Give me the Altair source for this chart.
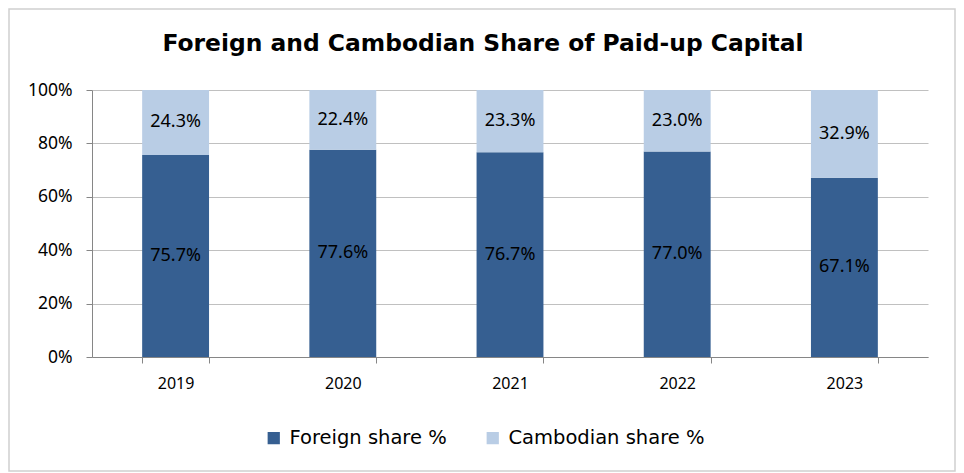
import altair as alt
import pandas as pd

years = ["2019", "2020", "2021", "2022", "2023"]
foreign = [75.7, 77.6, 76.7, 77.0, 67.1]
cambodian = [24.3, 22.4, 23.3, 23.0, 32.9]
series_names = ["Foreign share %", "Cambodian share %"]
colors = ["#365F91", "#B9CDE5"]

df = pd.DataFrame({"year": years, series_names[0]: foreign, series_names[1]: cambodian})

W, H = 836, 267

base = (
    alt.Chart(df)
    .transform_fold(series_names, as_=["series", "value"])
    .transform_calculate(ord="datum.series == 'Foreign share %' ? 0 : 1")
    .transform_stack(stack="value", groupby=["year"], as_=["y0", "y1"],
                     sort=[alt.SortField("ord", order="ascending")])
    .transform_calculate(mid="(datum.y0 + datum.y1) / 2",
                         label="format(datum.value, '.1f') + '%'")
)

xenc = alt.X("year:N", title=None,
             scale=alt.Scale(paddingInner=0.6, paddingOuter=0.3),
             axis=alt.Axis(labelAngle=0, labelFont="Noto Sans", labelFontSize=16,
                           labelColor="#000000", labelPadding=12, tickBand="extent",
                           domainColor="#868686", tickColor="#868686", tickSize=6,
                           grid=False))

bars = base.mark_bar().encode(
    x=xenc,
    y=alt.Y("y0:Q", title=None, scale=alt.Scale(domain=[0, 100], nice=False),
            axis=alt.Axis(values=[0, 20, 40, 60, 80, 100], labelExpr="datum.value + '%'",
                          labelFont="Noto Sans", labelFontSize=17.5, labelColor="#000000",
                          labelPadding=14, tickSize=6, tickColor="#868686",
                          domainColor="#868686", gridColor="#C0C0C0")),
    y2="y1:Q",
    color=alt.Color("series:N", title=None,
                    scale=alt.Scale(domain=series_names, range=colors),
                    legend=alt.Legend(orient="none", legendX=172, legendY=338,
                                      direction="horizontal", symbolType="square",
                                      symbolSize=150, symbolStrokeWidth=0,
                                      labelFont="DejaVu Sans", labelFontSize=19.5,
                                      labelColor="#000000", columnPadding=36,
                                      labelOffset=6, labelLimit=400)),
)

text = base.mark_text(font="Noto Sans", fontSize=18, color="#000000").encode(
    x=alt.X("year:N"),
    y=alt.Y("mid:Q"),
    text="label:N",
)

frame = alt.Chart(pd.DataFrame({"a": [0]})).mark_rect(
    filled=False, color="#D0D0D0", strokeWidth=1.5
).encode(x=alt.value(-83), x2=alt.value(W + 27), y=alt.value(-81), y2=alt.value(H + 114))

chart = (
    alt.layer(frame, bars, text)
    .properties(
        width=W, height=H,
        autosize=alt.AutoSizeParams(type="none"),
        padding={"left": 84, "top": 82, "right": 28, "bottom": 116},
        title=alt.Title("Foreign and Cambodian Share of Paid-up Capital",
                        font="DejaVu Sans", fontSize=23.4, fontWeight="bold",
                        color="#000000", anchor="middle", frame="group",
                        offset=-48, dx=-27),
    )
    .configure_view(stroke=None)
)

chart.save("out.html", embed_options={"renderer": "svg", "actions": False})
